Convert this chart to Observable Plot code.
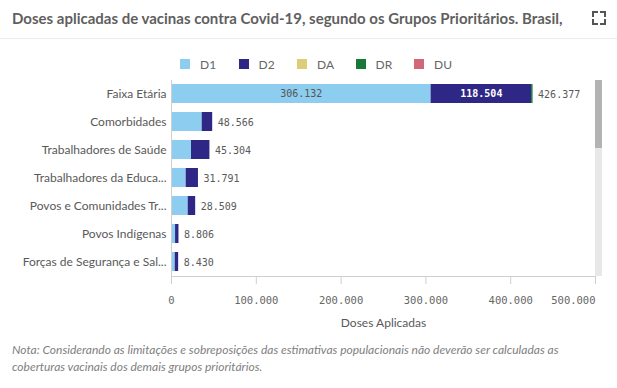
<!DOCTYPE html>
<html><head><meta charset="utf-8">
<script src="https://cdn.jsdelivr.net/npm/d3@7"></script>
<script src="https://cdn.jsdelivr.net/npm/@observablehq/plot@0.6"></script>
<style>
html,body{margin:0;padding:0;background:#fff;}
body{width:617px;height:388px;position:relative;overflow:hidden;font-family:Lato,sans-serif;}
#title{position:absolute;left:12px;top:9px;font-size:15px;font-weight:700;color:#5f5f5f;white-space:nowrap;}
#sep{position:absolute;left:0;top:38px;width:617px;height:1px;background:#ececec;}
#legend{position:absolute;top:58px;left:180px;display:flex;}
.item{width:58.5px;display:flex;align-items:center;font-size:12px;color:#666;height:12px;}
.sw{width:10px;height:10px;margin-right:10px;}
#chart{position:absolute;left:0;top:70px;}
#note{position:absolute;left:12px;top:341px;font-size:12px;font-style:italic;color:#808080;line-height:17px;white-space:nowrap;}
#track{position:absolute;left:595px;top:80px;width:7px;height:196px;background:#e8e8e8;}
#thumb{position:absolute;left:595px;top:80px;width:7px;height:68px;background:#b3b3b3;}
.cn{position:absolute;width:4px;height:4px;border-color:#555;border-style:solid;border-width:0;}
</style></head><body>
<div id="title">Doses aplicadas de vacinas contra Covid-19, segundo os Grupos Prioritários. Brasil,</div>
<div class="cn" style="left:592px;top:11px;border-top-width:2px;border-left-width:2px;"></div>
<div class="cn" style="left:600px;top:11px;border-top-width:2px;border-right-width:2px;"></div>
<div class="cn" style="left:592px;top:19px;border-bottom-width:2px;border-left-width:2px;"></div>
<div class="cn" style="left:600px;top:19px;border-bottom-width:2px;border-right-width:2px;"></div>
<div id="sep"></div>
<div id="legend"></div>
<div id="chart"></div>
<div id="track"></div><div id="thumb"></div>
<div id="note">Nota: Considerando as limitações e sobreposições das estimativas populacionais não deverão ser calculadas as<br>coberturas vacinais dos demais grupos prioritários.</div>
<script>
const categories = ["Faixa Etária","Comorbidades","Trabalhadores de Saúde","Trabalhadores da Educação","Povos e Comunidades Tradicionais","Povos Indígenas","Forças de Segurança e Salvamento"];
const tickLabels = ["Faixa Etária","Comorbidades","Trabalhadores de Saúde","Trabalhadores da Educa...","Povos e Comunidades Tr...","Povos Indígenas","Forças de Segurança e Sal..."];
const series = ["D1","D2","DA","DR","DU"];
const colors = ["#8dcdef","#2f2786","#dfcc79","#18783a","#d06878"];
const d1 = [306132, 36200, 23600, 17300, 19700, 4800, 4400];
const d2 = [118504, 12366, 21704, 14491, 8809, 4006, 4030];
const da = [0, 0, 0, 0, 0, 0, 0];
const dr = [1741, 0, 0, 0, 0, 0, 0];
const du = [0, 0, 0, 0, 0, 0, 0];
const totals = [426377, 48566, 45304, 31791, 28509, 8806, 8430];
const xTicks = [0, 100000, 200000, 300000, 400000, 500000];

const br = d3.formatLocale({decimal:",", thousands:".", grouping:[3], currency:["R$",""]}).format(",d");
const seriesValues = [d1, d2, da, dr, du];
const rows = [];
categories.forEach((c, i) => seriesValues.forEach((arr, j) => rows.push({category: c, series: series[j], value: arr[i]})));

const lg = document.getElementById("legend");
series.forEach((s, i) => {
  const it = document.createElement("div"); it.className = "item";
  const sw = document.createElement("div"); sw.className = "sw"; sw.style.background = colors[i];
  it.appendChild(sw); it.appendChild(document.createTextNode(s)); lg.appendChild(it);
});

const mono = "DejaVu Sans Mono";
const chart = Plot.plot({
  width: 617, height: 270, marginTop: 10, marginBottom: 64, marginLeft: 171, marginRight: 22,
  style: {fontFamily: "Lato", background: "transparent", color: "#595959"},
  x: {domain: [0, 500000], axis: null},
  y: {domain: categories, paddingInner: 0.32, paddingOuter: 0.16, axis: null},
  color: {domain: series, range: colors},
  marks: [
    Plot.barX(rows, Plot.stackX({x: "value", y: "category", fill: "series", order: series})),
    Plot.text(rows, Plot.stackX({x: "value", y: "category", z: "series", order: series,
      text: d => (d.series === "D1" && d.value >= 100000) ? br(d.value) : "", fill: "#555", fontFamily: mono, fontSize: 10})),
    Plot.text(rows, Plot.stackX({x: "value", y: "category", z: "series", order: series,
      text: d => (d.series === "D2" && d.value >= 100000) ? br(d.value) : "", fill: "#fff", fontFamily: mono, fontSize: 10, fontWeight: "bold"})),
    Plot.text(totals, {x: d => d, y: categories, text: d => br(d), textAnchor: "start", dx: 5, dy: 1, fill: "#595959", fontFamily: mono, fontSize: 10}),
    Plot.ruleX([0], {stroke: "#cfcfcf"}),
    Plot.frame({anchor: "bottom", stroke: "#cfcfcf"}),
    Plot.axisY({tickSize: 0, tickPadding: 5, tickFormat: d => tickLabels[categories.indexOf(d)], fontSize: 12, fill: "#595959", label: null}),
    Plot.axisX({ticks: xTicks, tickSize: 8, tickPadding: 12, stroke: "#cfcfcf", fill: "#666", fontFamily: mono, fontSize: 10.5,
      tickFormat: d => d === 500000 ? "" : br(d), label: null}),
    Plot.text([500000], {x: d => d, frameAnchor: "bottom", lineAnchor: "top", dy: 20, textAnchor: "end", text: d => br(d), fill: "#666", fontFamily: mono, fontSize: 10.5}),
    Plot.text(["Doses Aplicadas"], {frameAnchor: "bottom", dy: 50, text: d => d, fill: "#595959", fontSize: 12})
  ]
});
document.getElementById("chart").appendChild(chart);
</script>
</body></html>
